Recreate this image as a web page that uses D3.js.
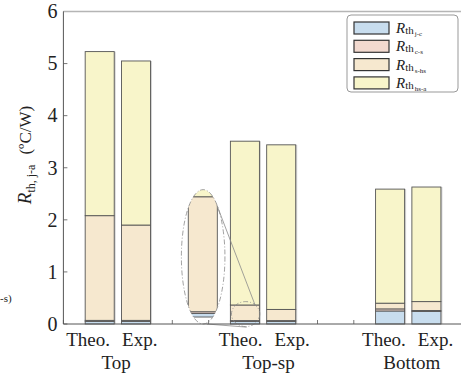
<!DOCTYPE html>
<html>
<head>
<meta charset="utf-8">
<script src="https://cdn.jsdelivr.net/npm/d3@7"></script>
<style>
body { margin: 0; background: #fff; }
svg text { font-family: "Liberation Serif", "Times New Roman", serif; fill: #222; }
</style>
</head>
<body>
<div id="chart"></div>
<script>
// categories
var groups = ["Top", "Top-sp", "Bottom"];
var barNames = ["Theo.", "Exp."];
var barPos = [1, 2, 5, 6, 9, 10];
var groupPos = [1.45, 5.65, 9.6];
var parts = ["j-c", "c-s", "s-hs", "hs-a"];
var colors = ["#c8ddee", "#f2d9cf", "#f6e8cf", "#f8f5ca"];

// stacked values (ºC/W), one per bar
var rJc = [0.05, 0.05, 0.05, 0.05, 0.25, 0.24];
var rCs = [0.02, 0.02, 0.015, 0.015, 0.04, 0.02];
var rShs = [2.01, 1.83, 0.30, 0.215, 0.11, 0.17];
var rHsa = [3.15, 3.15, 3.145, 3.16, 2.19, 2.20];

// magnified base of the Top-sp Theo. bar (inset)
var insetVals = [0.011, 0.005, 0.349, 0.2];

var yTicks = [0, 1, 2, 3, 4, 5, 6];
var xTicks = d3.range(0, 12);

var margin = {top: 11.5, left: 63.4},
    width = 399.3,
    height = 312.5;

var x = d3.scaleLinear().domain([0, 11]).range([0, width]);
var y = d3.scaleLinear().domain([0, 6]).range([height, 0]);
var barW = x(0.8) - x(0);

var svg = d3.select("#chart").append("svg")
    .attr("width", 461)
    .attr("height", 374);
var g = svg.append("g")
    .attr("transform", "translate(" + margin.left + "," + margin.top + ")");

// inward ticks (drawn first, bars hide them)
g.selectAll(".ytick")
    .data(yTicks)
    .enter().append("line")
    .attr("x1", 0).attr("x2", 4)
    .attr("y1", function(d) { return y(d); })
    .attr("y2", function(d) { return y(d); })
    .style("stroke", "#777");
g.selectAll(".xtick")
    .data(xTicks)
    .enter().append("line")
    .attr("x1", function(d) { return x(d); })
    .attr("x2", function(d) { return x(d); })
    .attr("y1", height).attr("y2", height - 4)
    .style("stroke", "#777");

var rows = barPos.map(function(p, i) {
    return {pos: p, "j-c": rJc[i], "c-s": rCs[i], "s-hs": rShs[i], "hs-a": rHsa[i]};
});
var series = d3.stack().keys(parts)(rows);

function total(d) { return d["j-c"] + d["c-s"] + d["s-hs"] + d["hs-a"]; }

// light shadow at the right of each bar
g.selectAll(".shadow")
    .data(rows)
    .enter().append("rect")
    .attr("x", function(d) { return x(d.pos) - barW / 2 + 1.5; })
    .attr("y", function(d) { return y(total(d)); })
    .attr("width", barW)
    .attr("height", function(d) { return y(0) - y(total(d)); })
    .style("fill", "#d4d4d4");

var layers = g.selectAll(".layer")
    .data(series)
    .enter().append("g")
    .attr("class", "layer")
    .style("fill", function(d, i) { return colors[i]; });

layers.selectAll("rect")
    .data(function(d) { return d; })
    .enter().append("rect")
    .attr("x", function(d) { return x(d.data.pos) - barW / 2; })
    .attr("y", function(d) { return y(d[1]); })
    .attr("width", barW)
    .attr("height", function(d) { return y(d[0]) - y(d[1]); })
    .style("stroke", "#555")
    .style("stroke-width", 0.9);

// inset (magnified view)
var ell = {cx: 3.85, cy: 1.29, rx: 0.6, ry: 1.29};
var circ = {cx: 5.02, cy: 0.19, rx: 0.39, ry: 0.24};
var insetX = 3.84;
var yIn = d3.scaleLinear().domain([0, 0.365]).range([y(0.134), y(2.443)]);

svg.append("defs").append("clipPath")
    .attr("id", "ellClip")
    .append("ellipse")
    .attr("cx", x(ell.cx))
    .attr("cy", y(ell.cy))
    .attr("rx", x(ell.rx) - x(0))
    .attr("ry", y(0) - y(ell.ry));

var inset = g.append("g").attr("clip-path", "url(#ellClip)");
var acc = 0;
insetVals.forEach(function(v, i) {
    inset.append("rect")
        .attr("x", x(insetX) - barW / 2)
        .attr("y", yIn(acc + v))
        .attr("width", barW)
        .attr("height", yIn(acc) - yIn(acc + v))
        .style("fill", colors[i])
        .style("stroke", "#555")
        .style("stroke-width", 0.9);
    acc += v;
});

[ell, circ].forEach(function(e) {
    g.append("ellipse")
        .attr("cx", x(e.cx))
        .attr("cy", y(e.cy))
        .attr("rx", x(e.rx) - x(0))
        .attr("ry", y(0) - y(e.ry))
        .style("fill", "none")
        .style("stroke", "#8a8a8a")
        .style("stroke-width", 0.8)
        .style("stroke-dasharray", "5,2,1,2");
});

var connectors = [[[4.23, 2.28], [5.28, 0.365]], [[3.95, 0], [5.05, -0.06]]];
g.selectAll(".conn")
    .data(connectors)
    .enter().append("line")
    .attr("x1", function(d) { return x(d[0][0]); })
    .attr("y1", function(d) { return y(d[0][1]); })
    .attr("x2", function(d) { return x(d[1][0]); })
    .attr("y2", function(d) { return y(d[1][1]); })
    .style("stroke", "#8a8a8a")
    .style("stroke-width", 0.8);

// axes frame
g.append("line")
    .attr("x1", 0).attr("x2", width)
    .attr("y1", 0).attr("y2", 0)
    .style("stroke", "#b5b5b5")
    .style("stroke-width", 1.6);
g.append("line")
    .attr("x1", 0).attr("x2", 0)
    .attr("y1", 0).attr("y2", height)
    .style("stroke", "#555");
g.append("line")
    .attr("x1", 0).attr("x2", width)
    .attr("y1", height).attr("y2", height)
    .style("stroke", "#555");

g.selectAll(".ylab")
    .data(yTicks)
    .enter().append("text")
    .attr("x", -6)
    .attr("y", function(d) { return y(d); })
    .attr("dy", "0.34em")
    .attr("text-anchor", "end")
    .attr("font-size", 20)
    .text(function(d) { return d; });

// x labels
groups.forEach(function(name, i) {
    var cx = x(groupPos[i]);
    g.append("text")
        .attr("x", cx - 6)
        .attr("y", height + 22)
        .attr("text-anchor", "end")
        .attr("font-size", 19)
        .text(barNames[0]);
    g.append("text")
        .attr("x", cx + 6)
        .attr("y", height + 22)
        .attr("text-anchor", "start")
        .attr("font-size", 19)
        .text(barNames[1]);
    g.append("text")
        .attr("x", cx)
        .attr("y", height + 45)
        .attr("text-anchor", "middle")
        .attr("font-size", 19)
        .text(name);
});

// y axis title
var yt = svg.append("text")
    .attr("transform", "translate(31,155) rotate(-90)")
    .attr("text-anchor", "middle");
yt.append("tspan").attr("font-size", 19).attr("font-style", "italic").text("R");
yt.append("tspan").attr("font-size", 12).attr("dy", 4).text("th, j-a");
yt.append("tspan").attr("font-size", 17).attr("dy", -4).attr("dx", 10).text("(ºC/W)");

// clipped fragment at left
svg.append("text")
    .attr("x", 0)
    .attr("y", 302)
    .attr("font-size", 11)
    .text("-s)");

// legend
var leg = svg.append("g").attr("transform", "translate(347,15)");
leg.append("rect")
    .attr("width", 111)
    .attr("height", 77)
    .attr("rx", 4)
    .style("fill", "#fff")
    .style("stroke", "#999");
var items = leg.selectAll(".item")
    .data(parts)
    .enter().append("g")
    .attr("transform", function(d, i) { return "translate(7," + (7 + i * 18.3) + ")"; });
items.append("rect")
    .attr("width", 35)
    .attr("height", 12)
    .style("fill", function(d, i) { return colors[i]; })
    .style("stroke", "#333")
    .style("stroke-width", 1.2);
var lt = items.append("text")
    .attr("x", 42)
    .attr("y", 11);
lt.append("tspan").attr("font-size", 15).attr("font-style", "italic").text("R");
lt.append("tspan").attr("font-size", 11).attr("dy", 1).text("th");
lt.append("tspan").attr("font-size", 7).attr("dy", 2).attr("dx", 1).text(function(d) { return d; });
</script>
</body>
</html>
